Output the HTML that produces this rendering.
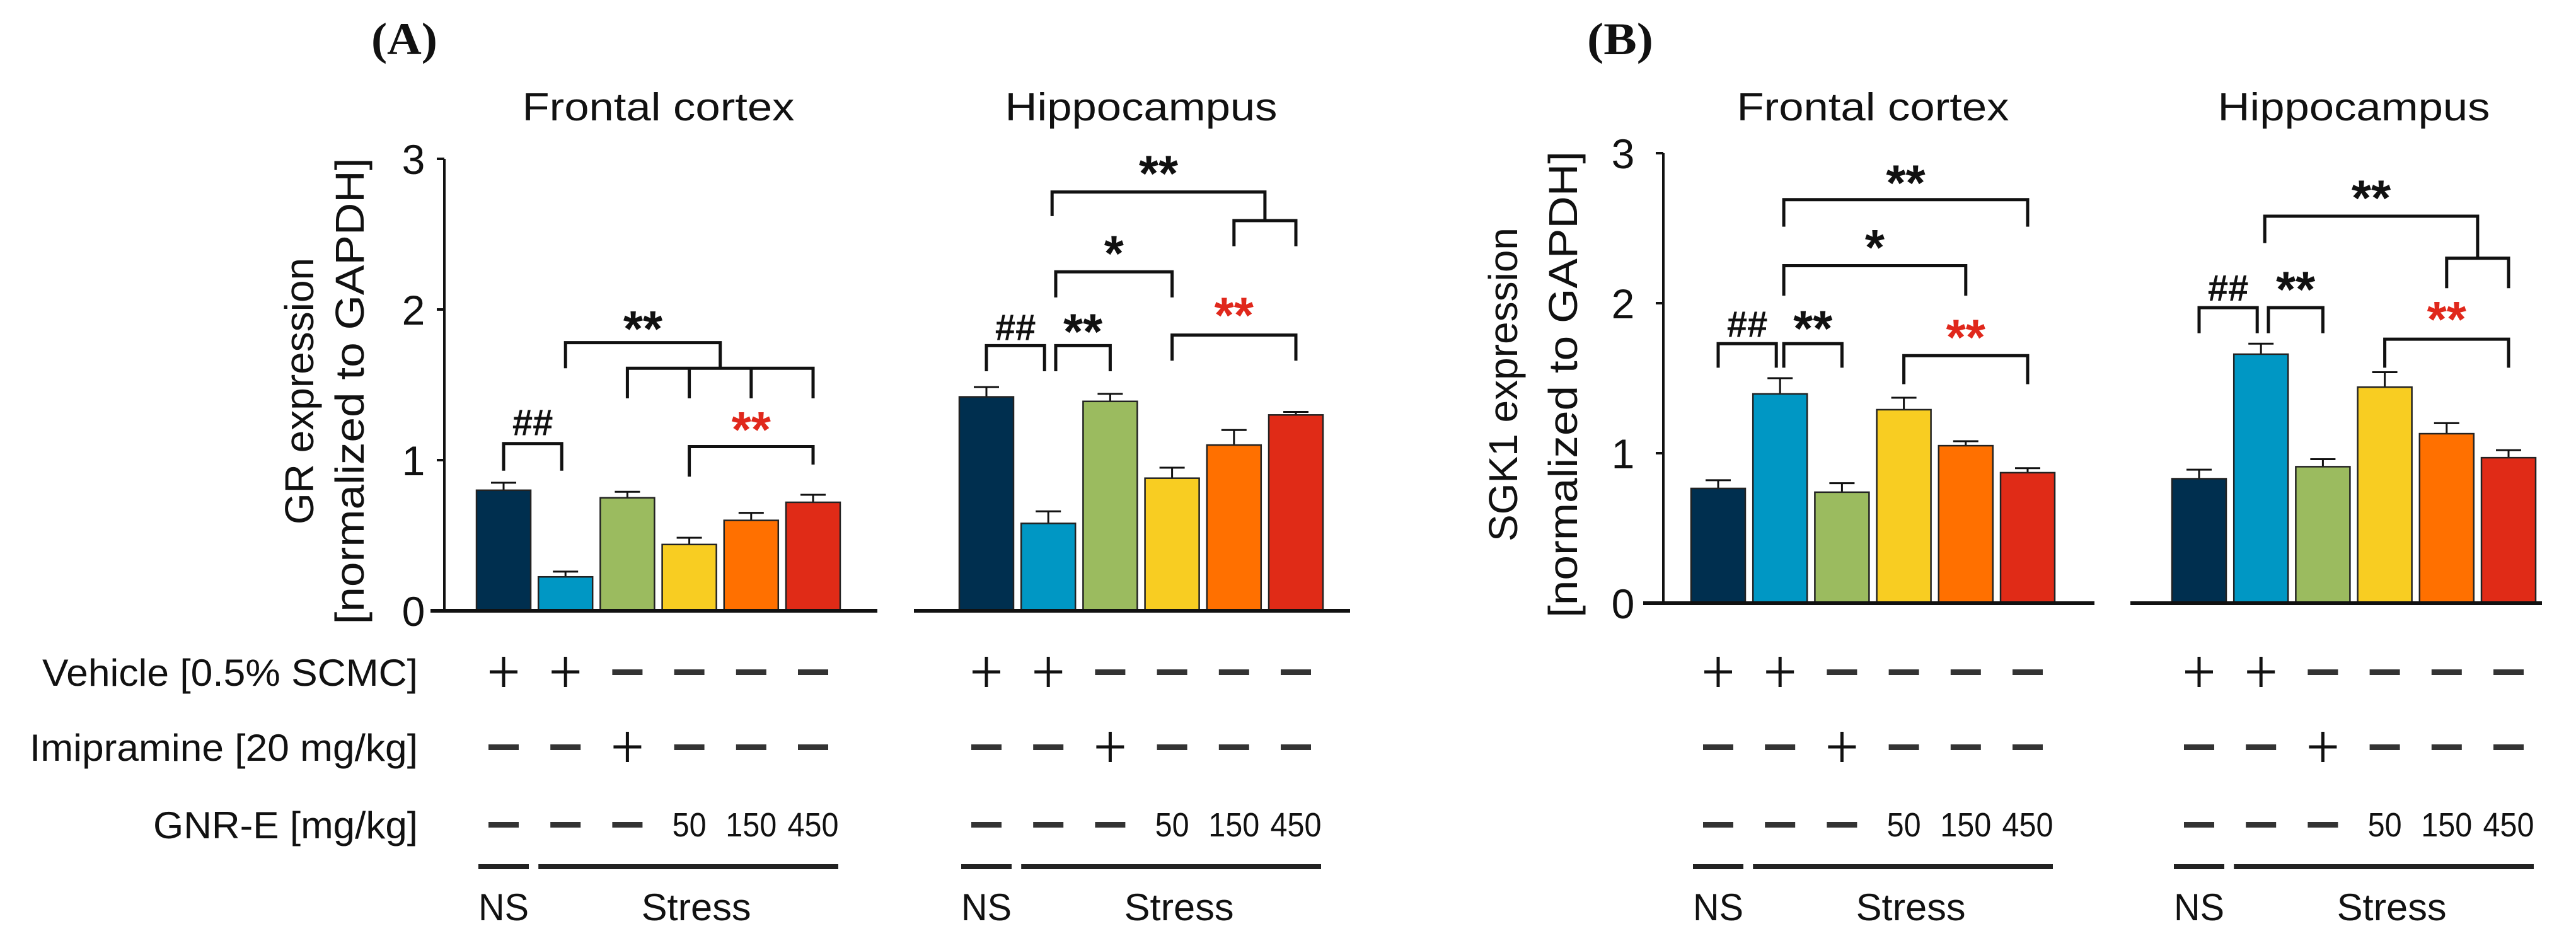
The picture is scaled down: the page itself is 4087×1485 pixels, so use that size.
<!DOCTYPE html>
<html><head><meta charset="utf-8"><style>
html,body{margin:0;padding:0;background:#fff}
svg{display:block}
text{font-family:"Liberation Sans",Arial,sans-serif;fill:#111}
</style></head><body>
<svg id="chart" width="4087" height="1485" viewBox="0 0 4087 1485" xmlns="http://www.w3.org/2000/svg">
<g id="root"></g>
</svg>
<script>
const categories = ["NS Vehicle","Stress Vehicle","Imipramine 20","GNR-E 50","GNR-E 150","GNR-E 450"];
const colors = ["#002f4f","#0097c4","#9bbb5f","#f8cd22","#ff7000","#e02b17"];
const grFrontal = [0.80,0.225,0.75,0.44,0.60,0.72];
const grFrontalErr = [0.05,0.035,0.04,0.045,0.05,0.05];
const grHippo = [1.42,0.58,1.39,0.88,1.10,1.30];
const grHippoErr = [0.065,0.08,0.05,0.07,0.10,0.02];
const sgkFrontal = [0.765,1.395,0.74,1.29,1.05,0.87];
const sgkFrontalErr = [0.055,0.105,0.06,0.08,0.03,0.03];
const sgkHippo = [0.83,1.66,0.91,1.44,1.13,0.97];
const sgkHippoErr = [0.06,0.07,0.05,0.10,0.07,0.05];
const yTicks = [0,1,2,3];
const vehicleRow = ["+","+","-","-","-","-"];
const imipRow = ["-","-","+","-","-","-"];
const gnrRow = ["-","-","-","50","150","450"];

const NS="http://www.w3.org/2000/svg";
const root=document.getElementById('root');
function el(tag,attrs,parent){const e=document.createElementNS(NS,tag);for(const k in attrs)e.setAttribute(k,attrs[k]);(parent||root).appendChild(e);return e;}
function txt(s,attrs,parent){const e=el('text',attrs,parent);e.textContent=s;return e;}

const panels=[
 {id:'a',letter:'(A)',letterX:589,axisX:705,y0:969,unit:239,ylab1:'GR expression',ylab1X:475,ylab2X:555,tickX:656,
  groups:[{title:'Frontal cortex',x0:756,base:[683,1392],vals:grFrontal,errs:grFrontalErr,
    brackets:[
     {type:'simple',a:0,b:1,top:1.11,legA:0.93,legB:0.93,label:'##',labelY:1.25,color:'#111'},
     {type:'simple',a:3,b:5,top:1.09,legA:0.89,legB:0.97,label:'**',labelY:1.23,color:'#e0281c'},
     {type:'multi',a:1,legs:[2,3,4,5],top:1.78,sub:1.61,legTop:1.61,legBot:1.41,leftLeg:1.61,label:'**',labelY:1.90}
    ]},
   {title:'Hippocampus',x0:1522,base:[1450,2142],vals:grHippo,errs:grHippoErr,
    brackets:[
     {type:'simple',a:0,b:1,top:1.76,legA:1.59,legB:1.59,label:'##',labelY:1.88,color:'#111'},
     {type:'simple',a:1,b:2,top:1.76,legA:1.59,legB:1.59,label:'**',labelY:1.88,color:'#111',off:0.12},
     {type:'simple',a:1,b:3,top:2.25,legA:2.08,legB:2.08,label:'*',labelY:2.40,color:'#111',off:0.12},
     {type:'simple',a:3,b:5,top:1.83,legA:1.66,legB:1.66,label:'**',labelY:1.99,color:'#e0281c'},
     {type:'split',a:1,b1:4,b2:5,top:2.78,leftLeg:2.62,sub:2.59,legBot:2.42,label:'**',labelY:2.93}
    ]}]},
 {id:'b',letter:'(B)',letterX:2518,axisX:2639,y0:957,unit:238,ylab1:'SGK1 expression',ylab1X:2385,ylab2X:2480,tickX:2575,
  groups:[{title:'Frontal cortex',x0:2683,base:[2607,3323],vals:sgkFrontal,errs:sgkFrontalErr,
    brackets:[
     {type:'simple',a:0,b:1,top:1.73,legA:1.57,legB:1.57,label:'##',labelY:1.86,color:'#111'},
     {type:'simple',a:1,b:2,top:1.73,legA:1.57,legB:1.57,label:'**',labelY:1.86,color:'#111',off:0.06},
     {type:'simple',a:1,b:4,top:2.25,legA:2.05,legB:2.05,label:'*',labelY:2.40,color:'#111',off:0.06},
     {type:'simple',a:1,b:5,top:2.69,legA:2.51,legB:2.51,label:'**',labelY:2.83,color:'#111',off:0.06},
     {type:'simple',a:3,b:5,top:1.65,legA:1.46,legB:1.46,label:'**',labelY:1.80,color:'#e0281c'}
    ]},
   {title:'Hippocampus',x0:3446,base:[3380,4033],vals:sgkHippo,errs:sgkHippoErr,
    brackets:[
     {type:'simple',a:0,b:1,top:1.97,legA:1.80,legB:1.80,label:'##',labelY:2.10,color:'#111'},
     {type:'simple',a:1,b:2,top:1.97,legA:1.80,legB:1.80,label:'**',labelY:2.12,color:'#111',off:0.12},
     {type:'simple',a:3,b:5,top:1.76,legA:1.57,legB:1.57,label:'**',labelY:1.92,color:'#e0281c'},
     {type:'split',a:1,b1:4,b2:5,top:2.58,leftLeg:2.40,sub:2.30,legBot:2.10,label:'**',labelY:2.73}
    ]}]}
];
const pitch=98.2, bw=86;
const rowY=[1066,1185,1308];

panels.forEach(p=>{
  const g=el('g',{});
  
  
  const yS=v=>p.y0-v*p.unit;
  const lt=txt(p.letter,{x:p.letterX,y:86,'font-size':72,'font-weight':'bold',textLength:105,lengthAdjust:'spacingAndGlyphs',style:'font-family:"Liberation Serif",serif'},g);
  
  
  const ax=el('line',{x1:p.axisX,y1:yS(3),x2:p.axisX,y2:p.y0,stroke:'#111','stroke-width':4},g);
  
  
  yTicks.forEach(t=>{
    const tk=el('line',{x1:p.axisX-12,y1:yS(t),x2:p.axisX,y2:yS(t),stroke:'#111','stroke-width':4},g);
    
    
    const tl=txt(String(t),{x:p.tickX,y:yS(t)+24,'font-size':66,'text-anchor':'middle'},g);
    
    
  });
  const cy=(yS(3)+p.y0)/2+10;
  const l1=txt(p.ylab1,{x:0,y:0,'font-size':64,'text-anchor':'middle',transform:`translate(${p.ylab1X+22},${cy}) rotate(-90)`},g);
  
  
  const l2=txt('[normalized to GAPDH]',{x:0,y:0,'font-size':64,'text-anchor':'middle',textLength:740,lengthAdjust:'spacingAndGlyphs',transform:`translate(${p.ylab2X+22},${cy}) rotate(-90)`},g);
  
  

  p.groups.forEach((grp,gi)=>{
    const gg=el('g',{},g);
    
    
    const cx=i=>grp.x0+i*pitch+bw/2;
    const tt=txt(grp.title,{x:(cx(0)+cx(5))/2,y:191,'font-size':62,'text-anchor':'middle',textLength:432,lengthAdjust:'spacingAndGlyphs'},gg);
    
    
    grp.vals.forEach((v,i)=>{
      const x=grp.x0+i*pitch;
      const e=grp.errs[i];
      const el1=el('line',{x1:cx(i),y1:yS(v),x2:cx(i),y2:yS(v+e),stroke:'#111','stroke-width':3},gg);
      
      
      const cap=el('line',{x1:cx(i)-20,y1:yS(v+e),x2:cx(i)+20,y2:yS(v+e),stroke:'#111','stroke-width':3},gg);
      
      
      const r=el('rect',{x:x,y:yS(v),width:bw,height:v*p.unit,fill:colors[i],stroke:'#222','stroke-width':2.5},gg);
      
      
    });
    const bl=el('line',{x1:grp.base[0],y1:p.y0,x2:grp.base[1],y2:p.y0,stroke:'#111','stroke-width':6},gg);
    
    
    grp.brackets.forEach(b=>{
      const bg=el('g',{fill:'none',stroke:'#111','stroke-width':5},gg);
      
      
      let lx;
      if(b.type==='simple'){
        const xa=cx(b.a)+(b.off?b.off*pitch:0);
        const xb=cx(b.b)-(b.b==1?6:0);
        el('path',{d:`M${xa},${yS(b.legA)} V${yS(b.top)} H${xb} V${yS(b.legB)}`},bg);
        lx=(xa+xb)/2;
      } else if(b.type==='multi'){
        const xa=cx(b.a), xs=b.legs.map(cx), mid=(xs[0]+xs[xs.length-1])/2;
        el('path',{d:`M${xa},${yS(b.leftLeg)} V${yS(b.top)} H${mid} V${yS(b.sub)}`},bg);
        el('path',{d:`M${xs[0]},${yS(b.legBot)} V${yS(b.sub)} H${xs[xs.length-1]} V${yS(b.legBot)}`},bg);
        xs.slice(1,-1).forEach(x=>el('path',{d:`M${x},${yS(b.sub)} V${yS(b.legBot)}`},bg));
        lx=(xa+mid)/2;
      } else {
        const xa=cx(b.a)+6, x1=cx(b.b1), x2=cx(b.b2), mid=(x1+x2)/2;
        el('path',{d:`M${xa},${yS(b.leftLeg)} V${yS(b.top)} H${mid} V${yS(b.sub)}`},bg);
        el('path',{d:`M${x1},${yS(b.legBot)} V${yS(b.sub)} H${x2} V${yS(b.legBot)}`},bg);
        lx=(xa+mid)/2;
      }
      const col=b.color||'#111';
      const lab=txt(b.label,{x:lx,y:yS(b.labelY)+ (b.label==='##'?20:34),'font-size':b.label==='##'?58:80,'font-weight':'bold','text-anchor':'middle',style:'fill:'+col},gg);
      
      
    });
    [vehicleRow,imipRow,gnrRow].forEach((row,ri)=>{
      row.forEach((s,i)=>{
        const x=cx(i), y=rowY[ri];
        let m;
        if(s==='+'){
          m=el('path',{d:`M${x-22},${y} H${x+22} M${x},${y-24} V${y+24}`,stroke:'#111','stroke-width':5,fill:'none'},gg);
          
        } else if(s==='-'){
          m=el('rect',{x:x-24,y:y-4,width:48,height:9,fill:'#333'},gg);
          
        } else {
          m=txt(s,{x:x,y:y+19,'font-size':54,'text-anchor':'middle',textLength:s.length*27,lengthAdjust:'spacingAndGlyphs'},gg);
          
        }
        
      });
    });
    const nl=el('line',{x1:cx(0)-40,y1:1375,x2:cx(0)+40,y2:1375,stroke:'#222','stroke-width':8},gg);
    
    
    const sl=el('line',{x1:cx(1)-43,y1:1375,x2:cx(5)+40,y2:1375,stroke:'#222','stroke-width':8},gg);
    
    
    const nt=txt('NS',{x:cx(0),y:1460,'font-size':60,'text-anchor':'middle',textLength:80,lengthAdjust:'spacingAndGlyphs'},gg);
    
    
    const st=txt('Stress',{x:(cx(1)+cx(5))/2+11,y:1460,'font-size':60,'text-anchor':'middle',textLength:174,lengthAdjust:'spacingAndGlyphs'},gg);
    
    
  });
});
const rowLabels=[['Vehicle [0.5% SCMC]',596],['Imipramine [20 mg/kg]',616],['GNR-E [mg/kg]',420]];
rowLabels.forEach((r,i)=>{
  const t=txt(r[0],{x:663,y:rowY[i]+22,'font-size':60,'text-anchor':'end',textLength:r[1],lengthAdjust:'spacingAndGlyphs'});
  
  
});
</script>
</body></html>
